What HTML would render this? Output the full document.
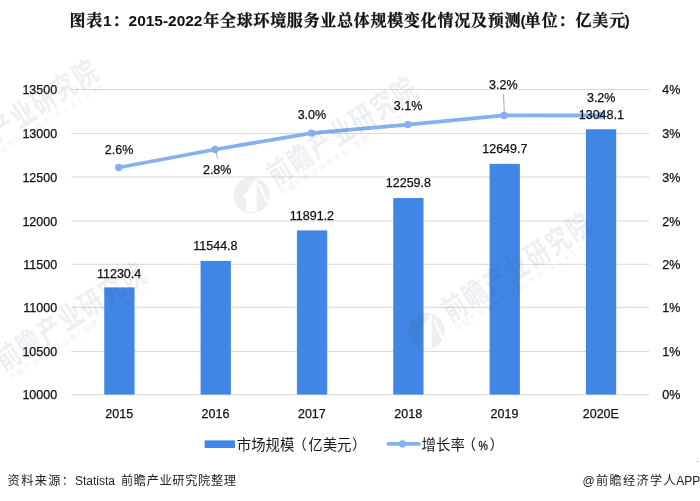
<!DOCTYPE html>
<html lang="zh-CN"><head><meta charset="utf-8"><title>图表1：2015-2022年全球环境服务业总体规模变化情况及预测</title>
<style>
html,body{margin:0;padding:0;background:#fff;}
body{width:700px;height:501px;overflow:hidden;position:relative;font-family:"Liberation Sans","Noto Sans CJK SC",sans-serif;}
svg{position:absolute;left:0;top:0;display:block;}
.t{font-family:"Liberation Sans","Noto Sans CJK SC",sans-serif;font-size:12.5px;fill:#111;stroke:#111;stroke-width:0.25px;}
.title{font-family:"Liberation Sans","Noto Serif CJK SC",serif;font-weight:bold;font-size:16px;fill:#111;stroke:#111;stroke-width:0.3px;}
.tl{font-size:15.5px;stroke-width:0;}
.wm{font-family:"Liberation Sans","Noto Sans CJK SC",sans-serif;font-weight:bold;font-size:30px;letter-spacing:2.5px;}
.wms{font-family:"Liberation Sans","Noto Sans CJK SC",sans-serif;font-size:7.5px;letter-spacing:1.5px;}
.leg{font-family:"Liberation Sans","Noto Sans CJK SC",sans-serif;font-size:14.4px;fill:#1a1a1a;}
.legp{font-size:12.6px;stroke:#1a1a1a;stroke-width:0.3px;}
.foot{font-family:"Liberation Sans","Noto Sans CJK SC",sans-serif;font-size:12.5px;fill:#222;}
.fc{font-size:12.2px;}
.fl{font-size:12px;}
</style></head><body>
<svg width="700" height="501" viewBox="0 0 700 501">
<rect width="700" height="501" fill="#fff"/>
<text class="title" y="26.4"><tspan x="69.4" textLength="32.8" lengthAdjust="spacing">图表</tspan><tspan class="tl" x="103" y="25.8">1</tspan><tspan x="112.4" y="26.4">：</tspan><tspan class="tl" x="128.6" y="25.8" textLength="73.8" lengthAdjust="spacingAndGlyphs">2015-2022</tspan><tspan x="203.2" y="26.4" textLength="317.2" lengthAdjust="spacing">年全球环境服务业总体规模变化情况及预测</tspan><tspan class="tl" x="520.6" y="25.8">(</tspan><tspan x="524.8" y="26.4" textLength="100.4" lengthAdjust="spacing">单位：亿美元</tspan><tspan class="tl" x="624.6" y="25.8">)</tspan></text>
<g stroke="#d9d9d9" stroke-width="1">
<line x1="71.3" x2="649.4" y1="394.70" y2="394.70"/>
<line x1="71.3" x2="649.4" y1="351.40" y2="351.40"/>
<line x1="71.3" x2="649.4" y1="307.40" y2="307.40"/>
<line x1="71.3" x2="649.4" y1="264.30" y2="264.30"/>
<line x1="71.3" x2="649.4" y1="221.00" y2="221.00"/>
<line x1="71.3" x2="649.4" y1="176.95" y2="176.95"/>
<line x1="71.3" x2="649.4" y1="133.55" y2="133.55"/>
<line x1="71.3" x2="649.4" y1="89.50" y2="89.50"/>
</g>
<g class="t" text-anchor="end">
<text x="57.2" y="399.40">10000</text>
<text x="57.2" y="356.10">10500</text>
<text x="57.2" y="312.10">11000</text>
<text x="57.2" y="269.00">11500</text>
<text x="57.2" y="225.70">12000</text>
<text x="57.2" y="181.65">12500</text>
<text x="57.2" y="138.25">13000</text>
<text x="57.2" y="94.20">13500</text>
</g>
<g class="t">
<text x="662.2" y="399.40">0%</text>
<text x="662.2" y="356.10">1%</text>
<text x="662.2" y="312.10">1%</text>
<text x="662.2" y="269.00">2%</text>
<text x="662.2" y="225.70">2%</text>
<text x="662.2" y="181.65">3%</text>
<text x="662.2" y="138.25">3%</text>
<text x="662.2" y="94.20">4%</text>
</g>
<g fill="#4186e5">
<rect x="104.25" y="287.40" width="30.3" height="107.20"/>
<rect x="200.58" y="260.90" width="30.3" height="133.70"/>
<rect x="296.91" y="230.40" width="30.3" height="164.20"/>
<rect x="393.24" y="198.05" width="30.3" height="196.55"/>
<rect x="489.57" y="163.85" width="30.3" height="230.75"/>
<rect x="585.90" y="129.25" width="30.3" height="265.35"/>
</g>
<g class="t" text-anchor="middle">
<text x="119.20" y="418.2">2015</text>
<text x="215.53" y="418.2">2016</text>
<text x="311.86" y="418.2">2017</text>
<text x="408.19" y="418.2">2018</text>
<text x="504.52" y="418.2">2019</text>
<text x="600.85" y="418.2">2020E</text>
</g>
<path d="M118.75,167.50 L215.10,149.50 L311.50,133.10 L407.90,124.60 L504.20,115.45 L600.70,115.50" fill="none" stroke="#84b1ef" stroke-width="3.8" stroke-linecap="round" stroke-linejoin="round"/>
<g fill="#84b1ef">
<circle cx="118.75" cy="167.50" r="3.7"/>
<circle cx="215.10" cy="149.50" r="3.7"/>
<circle cx="311.50" cy="133.10" r="3.7"/>
<circle cx="407.90" cy="124.60" r="3.7"/>
<circle cx="504.20" cy="115.45" r="3.7"/>
<circle cx="600.70" cy="115.50" r="3.7"/>
</g>
<g transform="translate(-41,154.5) rotate(-32.7)" fill="#3c4664" fill-opacity="0.085"><g transform="translate(-34.6,5.4)"><path fill-rule="evenodd" d="M0,-18 a18,18 0 1 0 0.01,0 z M13.4,-11 L-5,17.2 L-14,10 L-6,1 L-8,-3 L11.5,-11 z M11.4,-6 L13.4,-6 L10.4,15 L8,15 z"/></g><g transform="scale(0.76,1)"><text class="wm" x="-13" y="11.2">前瞻产业研究院</text></g><text class="wms" x="-9" y="22.2">中国产业咨询领导者<tspan letter-spacing="4.4">(</tspan>股票<tspan letter-spacing="4.4">:839599)</tspan></text></g>
<g transform="translate(277.7,172) rotate(-32.7)" fill="#3c4664" fill-opacity="0.085"><g transform="translate(-34.6,5.4)"><path fill-rule="evenodd" d="M0,-18 a18,18 0 1 0 0.01,0 z M13.4,-11 L-5,17.2 L-14,10 L-6,1 L-8,-3 L11.5,-11 z M11.4,-6 L13.4,-6 L10.4,15 L8,15 z"/></g><g transform="scale(0.76,1)"><text class="wm" x="-13" y="11.2">前瞻产业研究院</text></g><text class="wms" x="-9" y="22.2">中国产业咨询领导者<tspan letter-spacing="4.4">(</tspan>股票<tspan letter-spacing="4.4">:839599)</tspan></text></g>
<g transform="translate(6.5,357) rotate(-32.7)" fill="#3c4664" fill-opacity="0.085"><g transform="translate(-34.6,5.4)"><path fill-rule="evenodd" d="M0,-18 a18,18 0 1 0 0.01,0 z M13.4,-11 L-5,17.2 L-14,10 L-6,1 L-8,-3 L11.5,-11 z M11.4,-6 L13.4,-6 L10.4,15 L8,15 z"/></g><g transform="scale(0.76,1)"><text class="wm" x="-13" y="11.2">前瞻产业研究院</text></g><text class="wms" x="-9" y="22.2">中国产业咨询领导者<tspan letter-spacing="4.4">(</tspan>股票<tspan letter-spacing="4.4">:839599)</tspan></text></g>
<g transform="translate(452.7,307.8) rotate(-32.7)" fill="#3c4664" fill-opacity="0.085"><g transform="translate(-34.6,5.4)"><path fill-rule="evenodd" d="M0,-18 a18,18 0 1 0 0.01,0 z M13.4,-11 L-5,17.2 L-14,10 L-6,1 L-8,-3 L11.5,-11 z M11.4,-6 L13.4,-6 L10.4,15 L8,15 z"/></g><g transform="scale(0.76,1)"><text class="wm" x="-13" y="11.2">前瞻产业研究院</text></g><text class="wms" x="-9" y="22.2">中国产业咨询领导者<tspan letter-spacing="4.4">(</tspan>股票<tspan letter-spacing="4.4">:839599)</tspan></text></g>
<g stroke="#a0a0a0" stroke-width="0.9">
<line x1="215.4" y1="150.3" x2="217.7" y2="158.4"/>
<line x1="503.5" y1="94.3" x2="504.4" y2="115"/>
</g>
<g class="t" text-anchor="middle">
<text x="119.1" y="277.9">11230.4</text>
<text x="215.4" y="250.3">11544.8</text>
<text x="311.95" y="219.7">11891.2</text>
<text x="408.4" y="187.4">12259.8</text>
<text x="504.85" y="153.0">12649.7</text>
<text x="601.35" y="119.0">13048.1</text>
<text x="119.0" y="154.3">2.6%</text>
<text x="217.2" y="174.0">2.8%</text>
<text x="311.9" y="118.9">3.0%</text>
<text x="408.1" y="109.9">3.1%</text>
<text x="503.3" y="89.2">3.2%</text>
<text x="601.2" y="102.1">3.2%</text>
</g>
<rect x="204.6" y="440.4" width="30.3" height="7.6" fill="#4186e5"/>
<text class="leg" y="449.6"><tspan x="236.8">市场规模</tspan><tspan x="292.4">（</tspan><tspan x="308.3">亿美元</tspan><tspan x="352.1">）</tspan></text>
<line x1="388.5" x2="419" y1="443.9" y2="443.9" stroke="#84b1ef" stroke-width="3.8" stroke-linecap="round"/>
<circle cx="402.5" cy="443.9" r="3.7" fill="#84b1ef"/>
<text class="leg" y="449.6"><tspan x="421.6">增长率</tspan><tspan x="461.7">（</tspan><tspan x="478.4" class="legp" textLength="9.4" lengthAdjust="spacingAndGlyphs">%</tspan><tspan x="489.6">）</tspan></text>
<text class="foot" y="484.6"><tspan class="fc" x="7.6" letter-spacing="1.35">资料来源：</tspan><tspan class="fl" x="75">Statista</tspan><tspan class="fc" x="120.9" letter-spacing="0.68">前瞻产业研究院整理</tspan></text>
<text class="foot" y="484.6"><tspan class="fl" x="582.6">@</tspan><tspan class="fc" x="596" letter-spacing="1.3">前瞻经济学人</tspan><tspan class="fl" x="676.2">APP</tspan></text>
<rect x="697" y="461" width="1" height="1" fill="#8c8c8c"/>
</svg></body></html>
